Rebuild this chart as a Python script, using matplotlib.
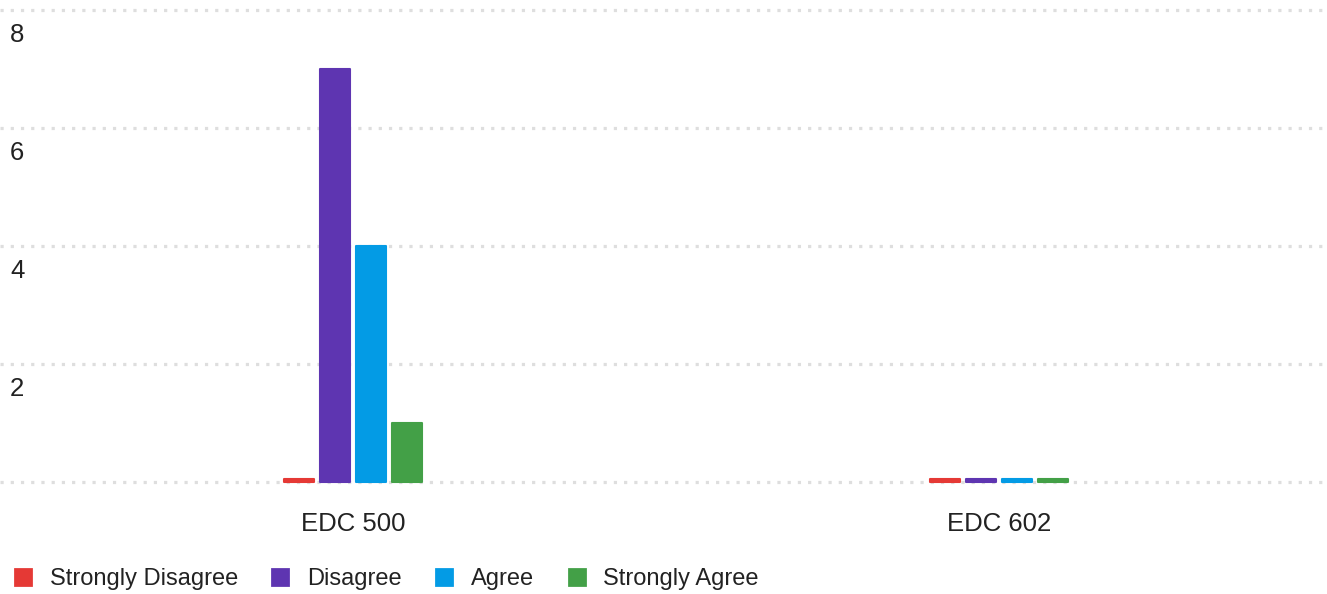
import matplotlib.pyplot as plt
from matplotlib import transforms
from matplotlib.patches import Patch

# data
categories = ["EDC 500", "EDC 602"]
series_names = ["Strongly Disagree", "Disagree", "Agree", "Strongly Agree"]
series_colors = ["#e53935", "#5e35b1", "#039be5", "#43a047"]
series_values = [
    [0, 0],   # Strongly Disagree
    [7, 0],   # Disagree
    [4, 0],   # Agree
    [1, 0],   # Strongly Agree
]
y_ticks = [0, 2, 4, 6, 8]

plt.rcParams['font.family'] = ['Liberation Sans', 'DejaVu Sans']
text_color = "#222222"

fig = plt.figure(figsize=(13.27, 5.94), dpi=100)
ax = fig.add_axes([0, 0.1786, 1, 0.8145])

ax.set_ylim(-0.1, 8.1)
ax.set_xlim(-0.5464, 1.5077)

# dotted gridlines across the full width
for t in y_ticks:
    ax.axhline(t, color="#dedede", linewidth=2.3, linestyle=(0, (1, 2.2)),
               zorder=0, dash_capstyle='butt')

# bars (zero values get the small minimum height the original shows)
bar_width = 0.0475
step = 0.0557
min_height = 0.05
for s_num, name in enumerate(series_names):
    offset = (s_num - 1.5) * step
    xs = [c + offset for c in range(len(categories))]
    heights = [max(v, min_height) for v in series_values[s_num]]
    ax.bar(xs, heights, width=bar_width, color=series_colors[s_num],
           edgecolor=series_colors[s_num], linewidth=1.5, joinstyle='round',
           zorder=2, label=name)

# y labels sit inside the plot, under each gridline
label_tf = transforms.blended_transform_factory(ax.transAxes, ax.transData)
label_tf = label_tf + transforms.ScaledTranslation(0, -25 / 100, fig.dpi_scale_trans)
for t in y_ticks[1:]:
    ax.text(10 / 1327, t, str(t), transform=label_tf, ha='left', va='center',
            fontsize=18.5, color=text_color)

ax.set_yticks([])
ax.set_xticks(range(len(categories)))
ax.set_xticklabels(categories, fontsize=18.5, color=text_color)
ax.tick_params(axis='x', length=0, pad=17)
for spine in ax.spines.values():
    spine.set_visible(False)

# legend along the bottom
handles = [Patch(facecolor=c, edgecolor=c, linewidth=2, joinstyle='round')
           for c in series_colors]
fig.legend(handles, series_names, loc='center left',
           bbox_to_anchor=(15 / 1327, 1 - 579 / 594), frameon=False,
           ncol=4, fontsize=17, handlelength=0.68, handleheight=0.68,
           handletextpad=0.8, columnspacing=1.45, borderpad=0,
           borderaxespad=0, labelcolor=text_color)

plt.savefig("out.png", dpi=100)
plt.close()
